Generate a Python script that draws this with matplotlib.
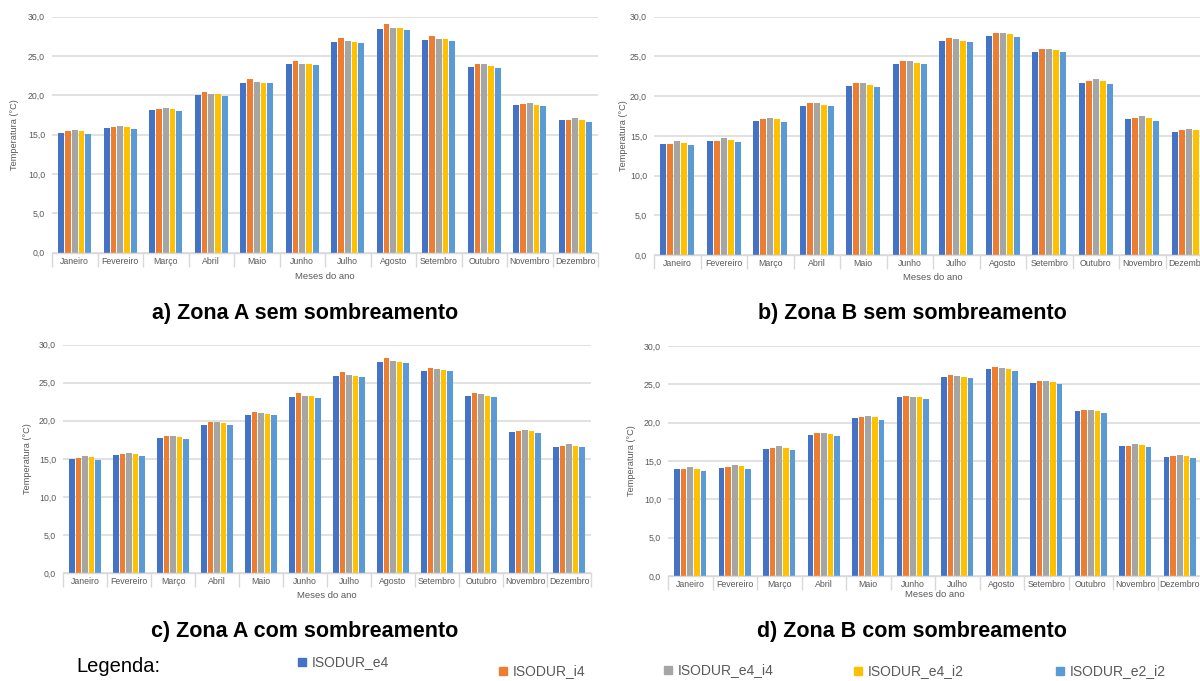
import matplotlib
matplotlib.use('Agg')
import matplotlib.pyplot as plt
import numpy as np

W, H = 1200, 681

months = ['Janeiro', 'Fevereiro', 'Março', 'Abril', 'Maio', 'Junho', 'Julho',
          'Agosto', 'Setembro', 'Outubro', 'Novembro', 'Dezembro']
series_names = ['ISODUR_e4', 'ISODUR_i4', 'ISODUR_e4_i4', 'ISODUR_e4_i2', 'ISODUR_e2_i2']
colors = ['#4472C4', '#ED7D31', '#A5A5A5', '#FFC000', '#5B9BD5']

# one row per month, columns follow series_names
zona_a_sem = [
    [15.2, 15.4, 15.6, 15.4, 15.1],
    [15.8, 16.0, 16.1, 15.9, 15.7],
    [18.1, 18.3, 18.4, 18.2, 18.0],
    [20.0, 20.4, 20.2, 20.1, 19.9],
    [21.5, 22.0, 21.7, 21.6, 21.5],
    [23.9, 24.3, 24.0, 23.9, 23.8],
    [26.8, 27.3, 26.9, 26.8, 26.6],
    [28.4, 29.0, 28.6, 28.5, 28.3],
    [27.0, 27.5, 27.2, 27.1, 26.9],
    [23.6, 24.0, 23.9, 23.7, 23.5],
    [18.8, 18.9, 19.0, 18.8, 18.6],
    [16.8, 16.9, 17.1, 16.9, 16.6],
]
zona_b_sem = [
    [14.0, 14.0, 14.4, 14.1, 13.9],
    [14.3, 14.3, 14.7, 14.5, 14.2],
    [16.9, 17.1, 17.3, 17.1, 16.8],
    [18.8, 19.1, 19.1, 18.9, 18.7],
    [21.3, 21.6, 21.6, 21.4, 21.2],
    [24.1, 24.4, 24.4, 24.2, 24.0],
    [26.9, 27.3, 27.2, 27.0, 26.8],
    [27.6, 28.0, 27.9, 27.8, 27.5],
    [25.6, 25.9, 25.9, 25.8, 25.5],
    [21.7, 21.9, 22.1, 21.9, 21.5],
    [17.1, 17.2, 17.5, 17.3, 16.9],
    [15.5, 15.7, 15.9, 15.7, 15.4],
]
zona_a_com = [
    [15.0, 15.1, 15.4, 15.2, 14.9],
    [15.5, 15.7, 15.8, 15.6, 15.4],
    [17.7, 18.0, 18.0, 17.9, 17.6],
    [19.5, 19.9, 19.8, 19.7, 19.4],
    [20.8, 21.2, 21.0, 20.9, 20.7],
    [23.1, 23.6, 23.3, 23.2, 23.0],
    [25.9, 26.4, 26.0, 25.9, 25.8],
    [27.7, 28.2, 27.8, 27.7, 27.6],
    [26.6, 27.0, 26.8, 26.7, 26.5],
    [23.2, 23.6, 23.5, 23.3, 23.1],
    [18.5, 18.7, 18.8, 18.6, 18.4],
    [16.6, 16.7, 16.9, 16.7, 16.5],
]
zona_b_com = [
    [13.9, 13.9, 14.2, 14.0, 13.7],
    [14.1, 14.2, 14.5, 14.3, 14.0],
    [16.6, 16.7, 16.9, 16.7, 16.5],
    [18.4, 18.7, 18.7, 18.5, 18.2],
    [20.6, 20.8, 20.9, 20.7, 20.4],
    [23.3, 23.5, 23.4, 23.3, 23.1],
    [25.9, 26.2, 26.1, 26.0, 25.8],
    [27.0, 27.2, 27.1, 27.0, 26.8],
    [25.2, 25.4, 25.4, 25.3, 25.1],
    [21.5, 21.6, 21.7, 21.5, 21.3],
    [17.0, 17.0, 17.2, 17.1, 16.8],
    [15.5, 15.6, 15.8, 15.6, 15.4],
]
captions = ['a) Zona A sem sombreamento', 'b) Zona B sem sombreamento',
            'c) Zona A com sombreamento', 'd) Zona B com sombreamento']

plt.rcParams['font.family'] = ['Liberation Sans', 'DejaVu Sans']
fig = plt.figure(figsize=(W / 100, H / 100), dpi=100)
GRAY_TXT = '#595959'
GRID = '#D9D9D9'


def px_rect(x0, x1, ytop, ybot):
    return [x0 / W, 1 - ybot / H, (x1 - x0) / W, (ybot - ytop) / H]


def draw_panel(data, rect, ylab_x, xlab_y):
    x0, x1, ytop, ybot = rect
    ax = fig.add_axes(px_rect(*rect))
    vals = np.array(data)
    x = np.arange(len(months))
    for i in range(len(series_names)):
        ax.bar(x + (i - 2) * 0.15, vals[:, i], width=0.128, color=colors[i],
               label=series_names[i], zorder=2)
    ax.set_xlim(-0.5, len(months) - 0.5)
    ax.set_ylim(0, 30)
    ax.set_yticks(np.arange(0, 31, 5))
    ax.set_yticklabels([f'{v:.1f}'.replace('.', ',') for v in np.arange(0, 31, 5)])
    ax.yaxis.grid(True, color=GRID, lw=1.1)
    ax.set_axisbelow(True)
    for s in ['top', 'right', 'left']:
        ax.spines[s].set_visible(False)
    ax.spines['bottom'].set_color(GRID)
    ax.spines['bottom'].set_linewidth(1.0)
    ax.set_xticks(x)
    ax.set_xticklabels(months)
    ax.set_xticks(np.arange(-0.5, len(months)), minor=True)
    ax.tick_params(axis='x', which='major', length=0, pad=3, labelsize=6.3,
                   labelcolor=GRAY_TXT)
    ax.tick_params(axis='x', which='minor', length=10, color=GRID, width=1.0)
    ax.tick_params(axis='y', length=0, pad=5, labelsize=6.3, labelcolor=GRAY_TXT)
    ax.set_ylabel('Temperatura (°C)', fontsize=6.6, color=GRAY_TXT)
    ax.yaxis.set_label_coords((ylab_x - x0) / (x1 - x0), 0.5)
    ax.set_xlabel('Meses do ano', fontsize=6.8, color=GRAY_TXT)
    ax.xaxis.set_label_coords(0.5, -(xlab_y - ybot) / (ybot - ytop))
    return ax


draw_panel(zona_a_sem, (52, 598, 16.5, 252.5), 19, 272)
draw_panel(zona_b_sem, (654, 1212, 16.7, 255), 628, 273)
draw_panel(zona_a_com, (63, 591, 344.7, 573), 32, 591)
draw_panel(zona_b_com, (668, 1202, 346, 576), 636, 590)

cap_pos = [(305, 313), (912, 313), (305, 632), (912, 632)]
for txt, (cx, cy) in zip(captions, cap_pos):
    fig.text(cx / W, 1 - cy / H, txt, ha='center', va='center',
             fontsize=15.5, fontweight='bold', color='black')

# legend row at the bottom
fig.text(76 / W, 1 - 667 / H, 'Legenda:', ha='left', va='center',
         fontsize=14.5, color='black')
leg_x = [302, 503, 668, 858, 1060]
leg_y = [662, 671, 670, 671, 671]
for name, c, lx, ly in zip(series_names, colors, leg_x, leg_y):
    fig.patches.append(plt.Rectangle(((lx - 4) / W, 1 - (ly + 4) / H), 8 / W, 8 / H,
                                     transform=fig.transFigure, color=c))
    fig.text((lx + 10) / W, 1 - ly / H, name, ha='left', va='center',
             fontsize=10, color=GRAY_TXT)

fig.savefig('out.png', dpi=100)
